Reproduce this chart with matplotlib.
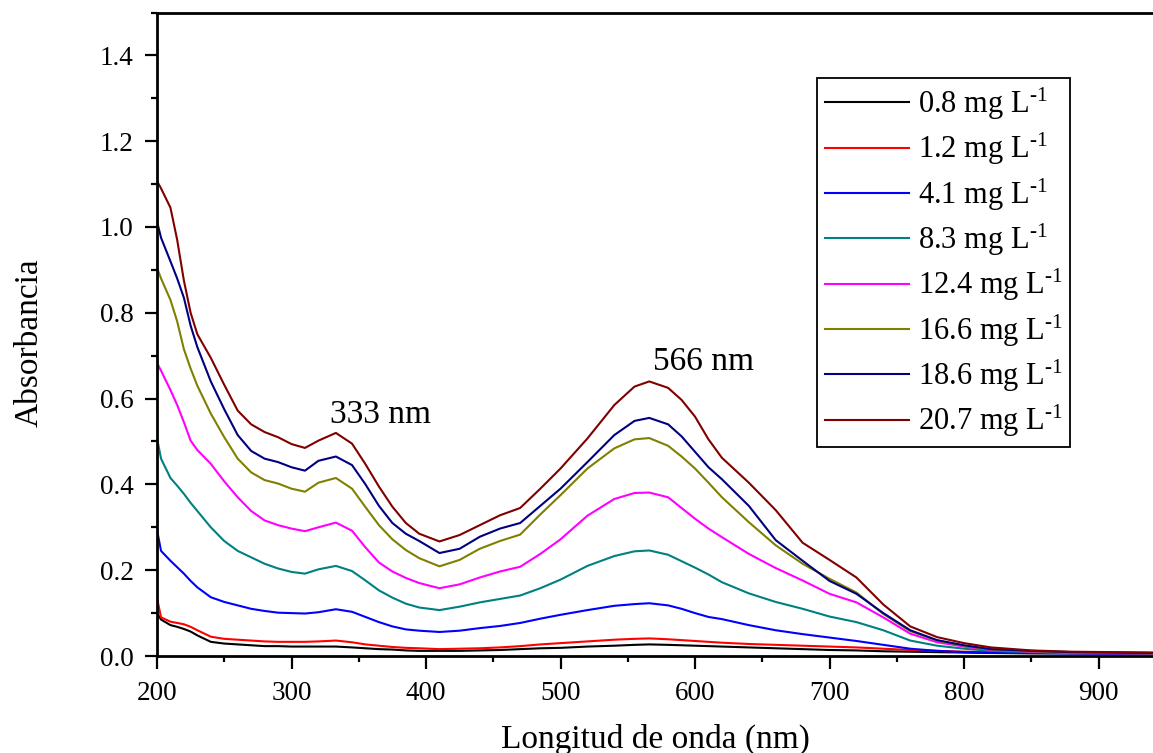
import matplotlib
matplotlib.use('Agg')

import numpy as np
import matplotlib.pyplot as plt
from matplotlib.ticker import MultipleLocator

plt.rcParams['font.family'] = ['Liberation Serif', 'DejaVu Serif']
plt.rcParams['mathtext.fontset'] = 'custom'
plt.rcParams['mathtext.rm'] = 'Liberation Serif'
plt.rcParams['mathtext.it'] = 'Liberation Serif:italic'

# wavelength grid (nm)
wl = [200, 203, 210, 215, 220, 225, 230, 240, 250, 260, 270, 280, 290, 300, 310, 320,
      333, 345, 355, 365, 375, 385, 395, 410, 425, 440, 455, 470, 485, 500, 520, 540,
      555, 566, 580, 590, 600, 610, 620, 640, 660, 680, 700, 720, 740, 760, 780, 800,
      820, 850, 880, 945]

# absorbance spectra per concentration
a_08 = [0.100, 0.085, 0.072, 0.068, 0.063, 0.057, 0.048, 0.033, 0.029, 0.027, 0.025, 0.023,
        0.023, 0.022, 0.022, 0.022, 0.022, 0.020, 0.018, 0.016, 0.015, 0.013, 0.012, 0.012,
        0.012, 0.013, 0.014, 0.016, 0.018, 0.019, 0.022, 0.024, 0.026, 0.027, 0.026, 0.025,
        0.024, 0.023, 0.022, 0.020, 0.018, 0.016, 0.014, 0.013, 0.011, 0.010, 0.009, 0.008,
        0.007, 0.006, 0.006, 0.005]
a_12 = [0.135, 0.090, 0.080, 0.077, 0.074, 0.068, 0.060, 0.045, 0.040, 0.038, 0.036, 0.034,
        0.033, 0.033, 0.033, 0.034, 0.036, 0.032, 0.027, 0.024, 0.021, 0.019, 0.018, 0.016,
        0.017, 0.018, 0.020, 0.023, 0.027, 0.030, 0.034, 0.038, 0.040, 0.041, 0.039, 0.037,
        0.035, 0.033, 0.031, 0.028, 0.026, 0.024, 0.022, 0.020, 0.017, 0.014, 0.012, 0.010,
        0.009, 0.008, 0.007, 0.006]
a_41 = [0.294, 0.245, 0.222, 0.207, 0.192, 0.175, 0.160, 0.137, 0.126, 0.118, 0.110, 0.105,
        0.101, 0.100, 0.099, 0.102, 0.109, 0.103, 0.091, 0.079, 0.069, 0.062, 0.059, 0.056,
        0.059, 0.065, 0.070, 0.077, 0.087, 0.096, 0.107, 0.117, 0.121, 0.123, 0.118, 0.110,
        0.100, 0.091, 0.086, 0.072, 0.060, 0.051, 0.043, 0.035, 0.026, 0.017, 0.012, 0.009,
        0.008, 0.007, 0.006, 0.005]
a_83 = [0.508, 0.460, 0.415, 0.397, 0.378, 0.357, 0.338, 0.300, 0.268, 0.245, 0.230, 0.215,
        0.204, 0.196, 0.192, 0.202, 0.210, 0.198, 0.176, 0.153, 0.136, 0.122, 0.113, 0.107,
        0.115, 0.125, 0.133, 0.141, 0.158, 0.178, 0.210, 0.233, 0.244, 0.246, 0.236, 0.221,
        0.206, 0.190, 0.172, 0.146, 0.126, 0.110, 0.092, 0.079, 0.060, 0.036, 0.024, 0.017,
        0.012, 0.009, 0.007, 0.006]
a_124 = [0.683, 0.665, 0.620, 0.585, 0.545, 0.502, 0.480, 0.448, 0.407, 0.370, 0.338, 0.316,
         0.305, 0.297, 0.291, 0.300, 0.311, 0.292, 0.253, 0.218, 0.197, 0.182, 0.170, 0.158,
         0.167, 0.183, 0.197, 0.208, 0.238, 0.272, 0.327, 0.366, 0.380, 0.381, 0.370, 0.345,
         0.320, 0.297, 0.277, 0.238, 0.205, 0.176, 0.145, 0.125, 0.090, 0.052, 0.032, 0.022,
         0.014, 0.010, 0.007, 0.006]
a_166 = [0.905, 0.880, 0.830, 0.780, 0.715, 0.670, 0.630, 0.565, 0.510, 0.460, 0.428, 0.410,
         0.402, 0.390, 0.383, 0.404, 0.415, 0.390, 0.347, 0.305, 0.272, 0.247, 0.228, 0.209,
         0.224, 0.250, 0.268, 0.283, 0.330, 0.375, 0.437, 0.484, 0.505, 0.508, 0.490, 0.465,
         0.437, 0.404, 0.370, 0.312, 0.258, 0.215, 0.180, 0.148, 0.098, 0.058, 0.036, 0.024,
         0.015, 0.011, 0.008, 0.006]
a_186 = [1.013, 0.975, 0.920, 0.880, 0.835, 0.770, 0.720, 0.640, 0.575, 0.515, 0.478, 0.460,
         0.452, 0.440, 0.432, 0.455, 0.465, 0.445, 0.400, 0.350, 0.310, 0.285, 0.268, 0.240,
         0.250, 0.278, 0.297, 0.310, 0.350, 0.390, 0.452, 0.515, 0.548, 0.555, 0.540, 0.512,
         0.476, 0.440, 0.412, 0.350, 0.270, 0.222, 0.175, 0.145, 0.100, 0.060, 0.037, 0.025,
         0.016, 0.012, 0.009, 0.007]
a_207 = [1.107, 1.090, 1.045, 0.970, 0.875, 0.800, 0.750, 0.695, 0.632, 0.572, 0.540, 0.522,
         0.510, 0.494, 0.485, 0.502, 0.520, 0.495, 0.447, 0.395, 0.348, 0.310, 0.285, 0.267,
         0.282, 0.305, 0.328, 0.345, 0.390, 0.437, 0.507, 0.585, 0.628, 0.640, 0.625, 0.597,
         0.558, 0.505, 0.462, 0.404, 0.340, 0.264, 0.224, 0.183, 0.120, 0.069, 0.044, 0.030,
         0.020, 0.013, 0.010, 0.008]

conc = ['0.8', '1.2', '4.1', '8.3', '12.4', '16.6', '18.6', '20.7']
spectra = [a_08, a_12, a_41, a_83, a_124, a_166, a_186, a_207]
colors = ['#000000', '#ff0000', '#0000ff', '#008080', '#ff00ff', '#808000', '#000080', '#800000']

peaks = [333, 566]

W, H = 1153, 753
fig = plt.figure(figsize=(W / 100, H / 100), dpi=100)
ax = fig.add_axes([157 / W, 1 - 656 / H, (W - 157) / W, (656 - 12.5) / H])

for c, y, col in zip(conc, spectra, colors):
    ax.plot(wl, y, color=col, lw=1.5, label=f'{c} mg L$^{{\\text{{-1}}}}$')

ax.set_xlim(200, 940.5)
ax.set_ylim(0, 1.5)
ax.xaxis.set_major_locator(MultipleLocator(100))
ax.xaxis.set_minor_locator(MultipleLocator(50))
ax.yaxis.set_major_locator(MultipleLocator(0.2))
ax.yaxis.set_minor_locator(MultipleLocator(0.1))
ax.yaxis.set_major_formatter(plt.FormatStrFormatter('%.1f'))

ax.spines['right'].set_visible(False)
for s in ['left', 'bottom', 'top']:
    ax.spines[s].set_linewidth(2.0)
ax.tick_params(which='both', direction='out', width=1.6, top=False, right=False)
ax.tick_params(which='major', length=9, labelsize=19.5)
ax.tick_params(axis='x', which='major', pad=9)
ax.tick_params(axis='y', which='major', pad=8)
ax.tick_params(which='minor', length=4)

ax.set_xlabel('Longitud de onda (nm)', fontsize=24, labelpad=13)
ax.set_ylabel('Absorbancia', fontsize=24)
ax.yaxis.set_label_coords(-0.113, 0.487)

# peak labels above the top spectrum
top = spectra[-1]
for p, dx, dy in zip(peaks, [33, 40], [0.024, 0.027]):
    ax.text(p + dx, top[wl.index(p)] + dy, f'{p} nm', fontsize=24,
            ha='center', va='baseline')

leg = ax.legend(loc='upper left', bbox_to_anchor=(817 / W, 1 - 78 / H),
                bbox_transform=fig.transFigure, borderaxespad=0, fontsize=22,
                frameon=True, fancybox=False, edgecolor='black', framealpha=1,
                handlelength=2.75, handletextpad=0.3, labelspacing=0.3,
                borderpad=0.25)
leg.get_frame().set_linewidth(1.3)

fig.savefig('out.png', dpi=100)
